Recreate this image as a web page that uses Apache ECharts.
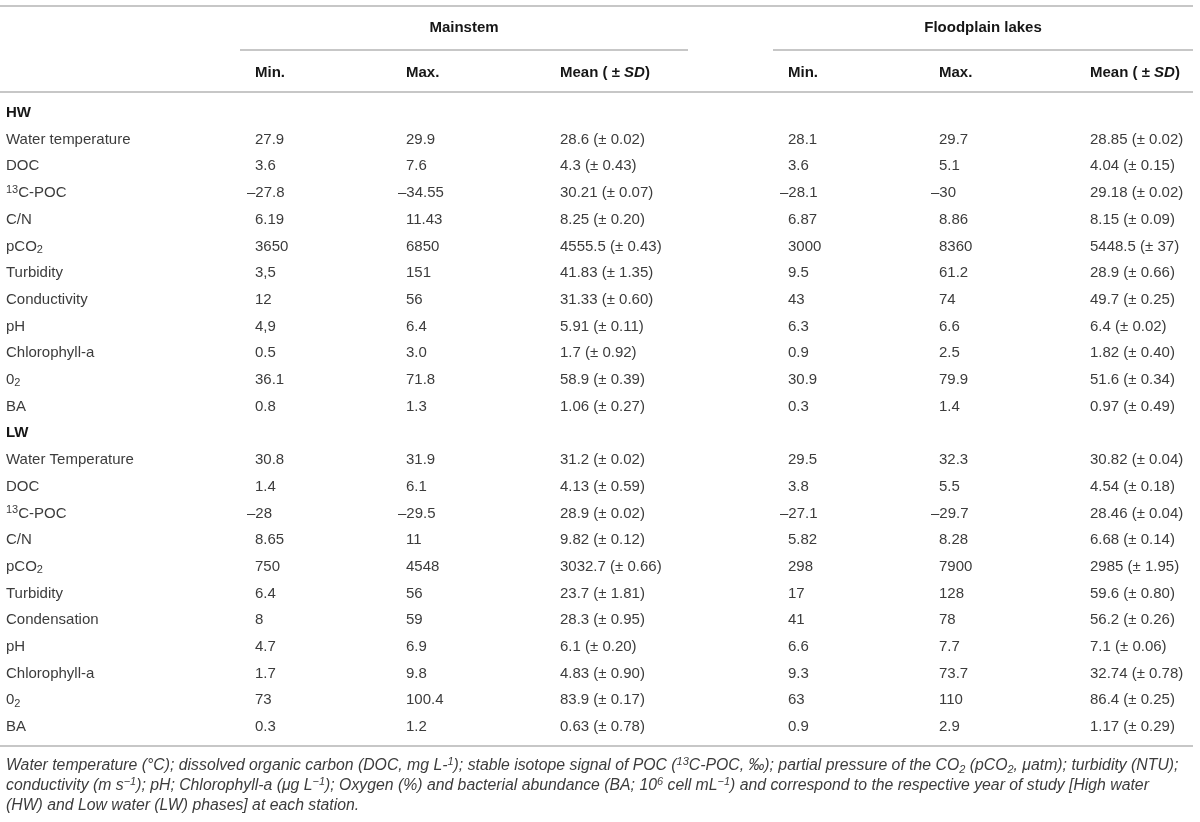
<!DOCTYPE html>
<html>
<head>
<meta charset="utf-8">
<script src="https://cdn.jsdelivr.net/npm/echarts@6/dist/echarts.min.js"></script>
<style>
html,body{margin:0;padding:0;background:#fff}
#main{width:1200px;height:822px}
</style>
</head>
<body>
<div id="main"></div>
<script>
// 行名 (HW / LW)
var hwLabels = ['Water temperature', 'DOC', '13C-POC', 'C/N', 'pCO2', 'Turbidity', 'Conductivity', 'pH', 'Chlorophyll-a', '02', 'BA'];
var lwLabels = ['Water Temperature', 'DOC', '13C-POC', 'C/N', 'pCO2', 'Turbidity', 'Condensation', 'pH', 'Chlorophyll-a', '02', 'BA'];

// HW - Mainstem
var hwMainMin  = ['27.9', '3.6', '–27.8', '6.19', '3650', '3,5', '12', '4,9', '0.5', '36.1', '0.8'];
var hwMainMax  = ['29.9', '7.6', '–34.55', '11.43', '6850', '151', '56', '6.4', '3.0', '71.8', '1.3'];
var hwMainMean = ['28.6', '4.3', '30.21', '8.25', '4555.5', '41.83', '31.33', '5.91', '1.7', '58.9', '1.06'];
var hwMainSd   = ['0.02', '0.43', '0.07', '0.20', '0.43', '1.35', '0.60', '0.11', '0.92', '0.39', '0.27'];
// HW - Floodplain lakes
var hwLakeMin  = ['28.1', '3.6', '–28.1', '6.87', '3000', '9.5', '43', '6.3', '0.9', '30.9', '0.3'];
var hwLakeMax  = ['29.7', '5.1', '–30', '8.86', '8360', '61.2', '74', '6.6', '2.5', '79.9', '1.4'];
var hwLakeMean = ['28.85', '4.04', '29.18', '8.15', '5448.5', '28.9', '49.7', '6.4', '1.82', '51.6', '0.97'];
var hwLakeSd   = ['0.02', '0.15', '0.02', '0.09', '37', '0.66', '0.25', '0.02', '0.40', '0.34', '0.49'];
// LW - Mainstem
var lwMainMin  = ['30.8', '1.4', '–28', '8.65', '750', '6.4', '8', '4.7', '1.7', '73', '0.3'];
var lwMainMax  = ['31.9', '6.1', '–29.5', '11', '4548', '56', '59', '6.9', '9.8', '100.4', '1.2'];
var lwMainMean = ['31.2', '4.13', '28.9', '9.82', '3032.7', '23.7', '28.3', '6.1', '4.83', '83.9', '0.63'];
var lwMainSd   = ['0.02', '0.59', '0.02', '0.12', '0.66', '1.81', '0.95', '0.20', '0.90', '0.17', '0.78'];
// LW - Floodplain lakes
var lwLakeMin  = ['29.5', '3.8', '–27.1', '5.82', '298', '17', '41', '6.6', '9.3', '63', '0.9'];
var lwLakeMax  = ['32.3', '5.5', '–29.7', '8.28', '7900', '128', '78', '7.7', '73.7', '110', '2.9'];
var lwLakeMean = ['30.82', '4.54', '28.46', '6.68', '2985', '59.6', '56.2', '7.1', '32.74', '86.4', '1.17'];
var lwLakeSd   = ['0.04', '0.18', '0.04', '0.14', '1.95', '0.80', '0.26', '0.06', '0.78', '0.25', '0.29'];

var groupNames = ['Mainstem', 'Floodplain lakes'];
var colHeads = ['Min.', 'Max.', 'Mean ( ± {bi|SD})'];
var footLines = [
	'Water temperature (°C); dissolved organic carbon (DOC, mg L-{sup|1}); stable isotope signal of POC ({sup|13}C-POC, ‰); partial pressure of the CO{sub|2} (pCO{sub|2}, μatm); turbidity (NTU);',
	'conductivity (m s{sup|−1}); pH; Chlorophyll-a (μg L{sup|−1}); Oxygen (%) and bacterial abundance (BA; 10{sup|6} cell mL{sup|−1}) and correspond to the respective year of study [High water',
	'(HW) and Low water (LW) phases] at each station.'
];

// 版式
var colX = [6, 255, 406, 560, 788, 939, 1090];
var FF = '"Liberation Sans", Arial, sans-serif';
var TXT = '#3c3c3c';
var HEAD = '#161616';
var RULE = '#b4b4b4';

// 上下标
function richFor(pre, sz) {
	return {
		sup: {font: pre + sz + 'px ' + FF, verticalAlign: 'top', lineHeight: sz},
		sub: {font: pre + sz + 'px ' + FF, verticalAlign: 'bottom', lineHeight: sz},
		bi: {font: 'italic bold 15px ' + FF, lineHeight: 18}
	};
}
function markup(lab) {
	if (lab === '13C-POC') return '{sup|13}C-POC';
	if (lab === 'pCO2') return 'pCO{sub|2}';
	if (lab === '02') return '0{sub|2}';
	return lab;
}

var rows = [];
function addBlock(name, labels, cols) {
	rows.push({label: name, head: true, cells: []});
	labels.forEach(function (lab, i) {
		rows.push({
			label: markup(lab),
			cells: [cols[0][i], cols[1][i], cols[2][i] + ' (± ' + cols[3][i] + ')',
				cols[4][i], cols[5][i], cols[6][i] + ' (± ' + cols[7][i] + ')']
		});
	});
}
addBlock('HW', hwLabels, [hwMainMin, hwMainMax, hwMainMean, hwMainSd, hwLakeMin, hwLakeMax, hwLakeMean, hwLakeSd]);
addBlock('LW', lwLabels, [lwMainMin, lwMainMax, lwMainMean, lwMainSd, lwLakeMin, lwLakeMax, lwLakeMean, lwLakeSd]);

var cellData = [];
rows.forEach(function (row, r) {
	cellData.push([0, r]);
	row.cells.forEach(function (t, c) {
		if (t) cellData.push([c + 1, r]);
	});
});

function cellText(c, r) {
	var row = rows[r];
	return c === 0 ? row.label : row.cells[c - 1];
}

var graphics = [];
function rule(x1, x2, y) {
	graphics.push({type: 'line', silent: true, shape: {x1: x1, y1: y, x2: x2, y2: y}, style: {stroke: RULE, lineWidth: 1.5}});
}
rule(0, 1193, 6);
rule(240, 688, 50);
rule(773, 1193, 50);
rule(0, 1193, 92);
rule(0, 1193, 746);
graphics.push({type: 'text', x: 464, y: 28, style: {text: groupNames[0], font: 'bold 15px ' + FF, fill: HEAD, align: 'center', verticalAlign: 'middle'}});
graphics.push({type: 'text', x: 983, y: 28, style: {text: groupNames[1], font: 'bold 15px ' + FF, fill: HEAD, align: 'center', verticalAlign: 'middle'}});
for (var i = 0; i < 6; i++) {
	graphics.push({type: 'text', x: colX[i + 1], y: 73, style: {
		text: colHeads[i % 3], font: 'bold 15px ' + FF, fill: HEAD, align: 'left', verticalAlign: 'middle',
		lineHeight: 18, rich: richFor('bold ', 11)
	}});
}
footLines.forEach(function (t, k) {
	graphics.push({type: 'text', x: 6, y: 766 + k * 20, style: {
		text: t, font: 'italic 15.8px ' + FF, fill: TXT, align: 'left', verticalAlign: 'middle',
		lineHeight: 19, rich: richFor('italic ', 11)
	}});
});

var chart = echarts.init(document.getElementById('main'), null, {renderer: 'canvas'});
chart.setOption({
	animation: false,
	backgroundColor: '#fff',
	grid: {left: 0, right: 0, top: 99.6, bottom: 81.6},
	xAxis: {type: 'value', min: 0, max: 1200, show: false},
	yAxis: {
		type: 'category', inverse: true, show: false,
		data: rows.map(function (r, i) { return String(i); })
	},
	graphic: graphics,
	series: [{
		type: 'custom',
		coordinateSystem: 'cartesian2d',
		silent: true,
		encode: {x: 0, y: 1},
		data: cellData,
		renderItem: function (params, api) {
			var c = api.value(0), r = api.value(1);
			var t = cellText(c, r);
			var pt = api.coord([colX[c], r]);
			var x = pt[0];
			// 负号悬挂, 数字对齐
			if (c > 0 && t.charAt(0) === '–') x -= 8;
			var bold = rows[r].head;
			return {
				type: 'text',
				x: x,
				y: pt[1],
				style: {
					text: t,
					font: (bold ? 'bold ' : '') + '15px ' + FF,
					fill: bold ? HEAD : TXT,
					align: 'left',
					verticalAlign: 'middle',
					lineHeight: 18,
					rich: richFor('', 11)
				}
			};
		}
	}]
});
</script>
</body>
</html>
